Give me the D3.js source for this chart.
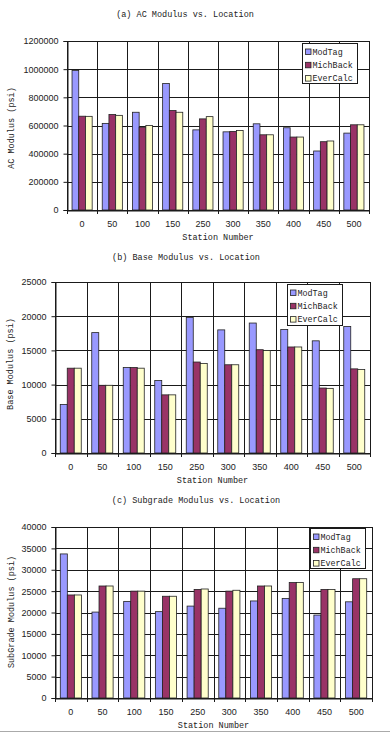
<!DOCTYPE html>
<html>
<head>
<meta charset="utf-8">
<script src="https://cdn.jsdelivr.net/npm/d3@7"></script>
<style>
html,body{margin:0;padding:0;background:#fff;}
svg{display:block;}
</style>
</head>
<body>
<svg id="chart" width="390" height="733"></svg>
<script>
// ---------- DATA ----------
const stations = ["0","50","100","150","250","300","350","400","450","500"];
const seriesNames = ["ModTag","MichBack","EverCalc"];
const seriesColors = ["#9999FF","#993366","#FFFFCC"];

const acModTag   = [990000,615000,694000,898000,569000,555000,612000,584000,419000,546000];
const acMichBack = [666000,678000,588000,706000,647000,558000,534000,518000,485000,605000];
const acEverCalc = [665000,672000,600000,694000,663000,565000,534000,518000,490000,605000];
const acTicks = [0,200000,400000,600000,800000,1000000,1200000];

const baseModTag   = [7100,17600,12500,10600,19800,18000,19000,18050,16400,18500];
const baseMichBack = [12400,9900,12500,8500,13300,12900,15100,15500,9500,12300];
const baseEverCalc = [12400,9900,12400,8500,13100,12900,15000,15500,9450,12200];
const baseTicks = [0,5000,10000,15000,20000,25000];

const subModTag   = [33700,20100,22600,20200,21500,21000,22700,23300,19400,22500];
const subMichBack = [24100,26200,25000,23800,25400,25000,26200,27000,25400,27900];
const subEverCalc = [24100,26200,25000,23800,25500,25200,26200,27000,25400,27900];
const subTicks = [0,5000,10000,15000,20000,25000,30000,35000,40000];

// ---------- DRAW ----------
const svg = d3.select("#chart");
const monoFont = "'Liberation Mono', 'DejaVu Sans Mono', monospace";
const sansFont = "'Liberation Sans', Arial, sans-serif";

function panel(cfg){
  const g = svg.append("g");
  const x0 = d3.scaleBand().domain(stations).range([cfg.left, cfg.right]).padding(0);
  const bw = x0.bandwidth();
  const x1 = d3.scaleBand().domain(seriesNames).range([bw/6, bw - bw/6]).padding(0);
  const y = d3.scaleLinear().domain([0, d3.max(cfg.ticks)]).range([cfg.bottom, cfg.top]);

  // title
  g.append("text").attr("x", cfg.titleX).attr("y", cfg.titleY)
    .attr("text-anchor","middle").attr("dominant-baseline","middle")
    .style("font-family", monoFont).style("font-size","8.5px").attr("fill","#222")
    .text(cfg.title);

  // horizontal gridlines
  g.append("g").selectAll("line").data(cfg.ticks).join("line")
    .attr("x1", cfg.left).attr("x2", cfg.right)
    .attr("y1", d => Math.round(y(d))+0.5).attr("y2", d => Math.round(y(d))+0.5)
    .attr("stroke","#1a1a1a").attr("stroke-width",1);

  // vertical gridlines at category boundaries
  const bounds = stations.map(s => x0(s)).concat([cfg.right]);
  g.append("g").selectAll("line").data(bounds).join("line")
    .attr("x1", d => Math.round(d)+0.5).attr("x2", d => Math.round(d)+0.5)
    .attr("y1", cfg.top).attr("y2", cfg.bottom + 4)
    .attr("stroke","#1a1a1a").attr("stroke-width",1);

  // bars
  const valsBySeries = cfg.values;
  const groups = g.append("g").selectAll("g").data(stations).join("g")
    .attr("transform", d => `translate(${x0(d)},0)`);
  groups.selectAll("rect").data((d,i) => seriesNames.map((s,k) => ({s, v: valsBySeries[k][i], c: seriesColors[k]})))
    .join("rect")
    .attr("x", d => x1(d.s)).attr("width", x1.bandwidth())
    .attr("y", d => y(d.v)).attr("height", d => cfg.bottom - y(d.v))
    .attr("fill", d => d.c).attr("stroke","#222").attr("stroke-width",0.8);

  // y axis
  const yAxis = d3.axisLeft(y).tickValues(cfg.ticks).tickSize(4).tickPadding(5).tickFormat(d3.format("d"));
  const ya = g.append("g").attr("transform", `translate(${Math.round(cfg.left)+0.5},0)`).call(yAxis);
  ya.selectAll("text").style("font-family", sansFont).style("font-size","9px").attr("fill","#222");
  ya.selectAll("line,path").attr("stroke","#1a1a1a");

  // x axis labels
  const xAxis = d3.axisBottom(x0).tickSize(0).tickPadding(10);
  const xa = g.append("g").attr("transform", `translate(0,${Math.round(cfg.bottom)+0.5})`).call(xAxis);
  xa.select("path").attr("stroke","#1a1a1a");
  xa.selectAll("text").style("font-family", sansFont).style("font-size","9px").attr("fill","#222");

  // x title
  g.append("text").attr("x", (cfg.left+cfg.right)/2).attr("y", cfg.bottom + 28)
    .attr("text-anchor","middle").attr("dominant-baseline","middle")
    .style("font-family", monoFont).style("font-size","8.5px").attr("fill","#222")
    .text("Station Number");

  // y title
  g.append("text").attr("transform", `translate(${cfg.yTitleX},${cfg.yTitleY}) rotate(-90)`)
    .attr("text-anchor","middle").attr("dominant-baseline","middle")
    .style("font-family", monoFont).style("font-size","8.5px").attr("fill","#222")
    .text(cfg.yTitle);

  // legend
  const L = cfg.legend;
  const lg = g.append("g").attr("transform", `translate(${L.x},${L.y})`);
  lg.append("rect").attr("x",0.5).attr("y",0.5).attr("width",L.w).attr("height",L.h)
    .attr("fill","#fff").attr("stroke","#1a1a1a").attr("stroke-width",1);
  const items = lg.selectAll("g").data(seriesNames).join("g")
    .attr("transform", (d,i) => `translate(0,${9 + i*13.3})`);
  items.append("rect").attr("x",3.5).attr("y",-3).attr("width",5.5).attr("height",5.5)
    .attr("fill", (d,i) => seriesColors[i]).attr("stroke","#222").attr("stroke-width",0.8);
  items.append("text").attr("x",10.5).attr("y",0.5).attr("dominant-baseline","middle")
    .style("font-family", monoFont).style("font-size","8.4px").attr("fill","#222")
    .text(d => d);
}

panel({
  title:"(a) AC Modulus vs. Location", titleX:185, titleY:15,
  left:67, right:369, top:41, bottom:210,
  ticks: acTicks, values:[acModTag, acMichBack, acEverCalc],
  yTitle:"AC Modulus (psi)", yTitleX:12, yTitleY:128,
  legend:{x:302, y:43, w:55, h:40}
});
panel({
  title:"(b) Base Modulus vs. Location", titleX:186, titleY:258,
  left:55, right:370, top:282, bottom:453,
  ticks: baseTicks, values:[baseModTag, baseMichBack, baseEverCalc],
  yTitle:"Base Modulus (psi)", yTitleX:11, yTitleY:364,
  legend:{x:287, y:284, w:55, h:41}
});
panel({
  title:"(c) Subgrade Modulus vs. Location", titleX:196, titleY:501,
  left:55, right:372, top:527, bottom:698,
  ticks: subTicks, values:[subModTag, subMichBack, subEverCalc],
  yTitle:"SubGrade Modulus (psi)", yTitleX:12, yTitleY:612,
  legend:{x:310, y:528, w:55, h:40}
});

// bottom border line of the scanned figure
svg.append("line").attr("x1",0).attr("x2",390).attr("y1",731.5).attr("y2",731.5)
  .attr("stroke","#aaa").attr("stroke-width",1);
</script>
</body>
</html>
